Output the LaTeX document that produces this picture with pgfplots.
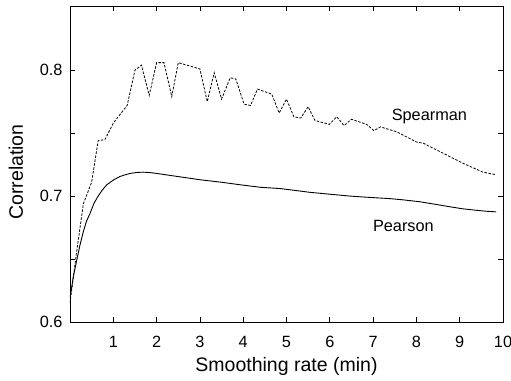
\documentclass[border=0pt]{standalone}
\usepackage{fontspec}
\setmainfont{Liberation Sans}
\usepackage{pgfplots}
\pgfplotsset{compat=1.18}
\begin{document}
\begin{tikzpicture}[x=1bp,y=1bp]
\begin{axis}[
  at={(0,0)}, anchor=south west,
  scale only axis,
  width=433bp, height=316bp,
  xmin=0, xmax=10, ymin=0.6, ymax=0.851,
  xtick={1,2,3,4,5,6,7,8,9,10},
  ytick={0.6,0.7,0.8},
  minor ytick={0.65,0.75},
  tick align=inside,
  major tick length=5bp, minor tick length=5bp,
  tick style={line width=0.8bp, black},
  axis line style={line width=0.9bp},
  /pgf/number format/assume math mode=true,
  /pgf/number format/fixed,
  /pgf/number format/precision=1,
  ticklabel style={font=\fontsize{16.3bp}{19bp}\selectfont},
  xticklabel style={yshift=-11bp},
  yticklabel style={xshift=-4bp},
  xlabel={Smoothing rate (min)},
  ylabel={Correlation},
  label style={font=\fontsize{19.5bp}{22bp}\selectfont},
  xlabel style={yshift=-2bp},
  ylabel style={yshift=10bp, xshift=-8bp},
  clip=true,
]
\addplot[black, line width=0.8bp, dash pattern=on 2.5bp off 1.5bp] coordinates {
(0,0.615) (0.15,0.655) (0.31,0.694) (0.5,0.711) (0.65,0.744) (0.81,0.745)
(1.0,0.758) (1.32,0.772) (1.5,0.800) (1.65,0.804) (1.83,0.780) (2.0,0.806)
(2.17,0.806) (2.35,0.779) (2.5,0.806) (3.0,0.801) (3.17,0.775) (3.33,0.798)
(3.5,0.777) (3.7,0.794) (3.83,0.793) (4.02,0.773) (4.17,0.772) (4.33,0.785)
(4.66,0.781) (4.83,0.766) (5.0,0.777) (5.17,0.763) (5.33,0.762) (5.5,0.771)
(5.66,0.760) (5.99,0.757) (6.16,0.763) (6.33,0.756) (6.5,0.761) (6.85,0.757)
(7.02,0.752) (7.17,0.755) (7.55,0.751) (8.0,0.743) (8.16,0.742) (8.62,0.734)
(9.08,0.726) (9.54,0.719) (9.84,0.717)
};
\addplot[black, line width=0.9bp] coordinates {
(0,0.619) (0.077,0.636) (0.155,0.649) (0.23,0.661) (0.31,0.672) (0.38,0.680) (0.46,0.686)
(0.55,0.694) (0.65,0.700) (0.75,0.705) (0.85,0.709) (1.0,0.7127)
(1.15,0.7155) (1.28,0.717) (1.39,0.718) (1.55,0.7188) (1.69,0.719) (1.85,0.7187) (2.0,0.718)
(2.5,0.7155) (3.0,0.7130) (3.5,0.711) (3.93,0.709)
(4.4,0.707) (4.85,0.706) (5.2,0.7045) (5.54,0.703) (6.0,0.7015) (6.47,0.700) (6.9,0.699) (7.39,0.698) (7.7,0.697) (8.08,0.6955) (8.4,0.6937) (8.78,0.6915)
(9.05,0.690) (9.31,0.689) (9.6,0.688) (9.84,0.6875)
};
\node[font=\fontsize{16.3bp}{19bp}\selectfont] at (axis cs:8.3,0.7635) {Spearman};
\node[font=\fontsize{16.3bp}{19bp}\selectfont] at (axis cs:7.7,0.6765) {Pearson};
\end{axis}
\pgfresetboundingbox
\path[use as bounding box] (-70bp,-59bp) rectangle (441bp,322bp);
\end{tikzpicture}
\end{document}
